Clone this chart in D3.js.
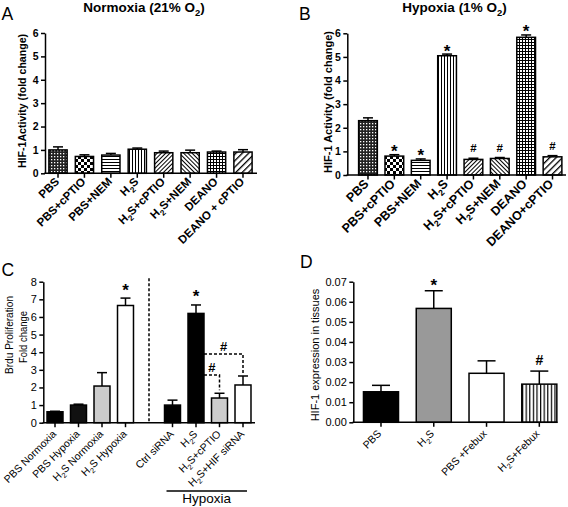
<!DOCTYPE html>
<html><head><meta charset="utf-8">
<script src="https://cdn.jsdelivr.net/npm/d3@7"></script>
<style>body{margin:0;background:#fff}svg{display:block}</style>
</head><body>
<svg id="fig" width="568" height="507"></svg>
<script>
// ---------- DATA ----------
const aCategories = ["PBS","PBS+cPTIO","PBS+NEM","H_2S","H_2S+cPTIO","H_2S+NEM","DEANO","DEANO + cPTIO"];
const aValues = [1.00,0.72,0.78,1.03,0.88,0.88,0.91,0.91];
const aErrors = [0.13,0.07,0.07,0.05,0.07,0.11,0.04,0.10];
const aMarks  = ["","","","","","","",""];

const bCategories = ["PBS","PBS+cPTIO","PBS+NEM","H_2S","H_2S+cPTIO","H_2S+NEM","DEANO","DEANO+cPTIO"];
const bValues = [2.30,0.80,0.62,5.05,0.66,0.70,5.83,0.77];
const bErrors = [0.12,0.06,0.06,0.07,0.05,0.04,0.10,0.05];
const bMarks  = ["","*","*","*","#","#","*","#"];

const abPatterns = ["checkFine","checkBig","hLines","vLines","diagA","diagB","grid","diagWide"];
const abTicks = [0,1,2,3,4,5,6];

const cCategories = ["PBS Normoxia","PBS Hypoxia","H_2S Normoxia","H_2S Hypoxia","Ctrl siRNA","H_2S","H_2S+cPTIO","H_2S+HIF siRNA"];
const cValues = [0.62,1.00,2.08,6.65,1.00,6.20,1.40,2.14];
const cErrors = [0.03,0.05,0.76,0.42,0.28,0.48,0.27,0.51];
const cFills  = ["#000","#111","#cccccc","#fff","#000","#000","#cccccc","#fff"];
const cMarks  = ["","","","*","","*","",""];
const cTicks  = [0,1,2,3,4,5,6,7,8];
const cBrackets = [ // [from category, to category, level]
  ["H_2S","H_2S+HIF siRNA",3.9],
  ["H_2S","H_2S+cPTIO",2.7]
];

const dCategories = ["PBS","H_2S","PBS +Febux","H_2S+Febux"];
const dValues = [0.0152,0.0567,0.0244,0.0190];
const dErrors = [0.0032,0.0088,0.0062,0.0065];
const dFills  = ["#000","#999999","#fff","url(#vStripes)"];
const dMarks  = ["","*","","#"];
const dTicks  = [0,0.01,0.02,0.03,0.04,0.05,0.06,0.07];

// ---------- SETUP ----------
const FONT = "'Liberation Sans', Arial, Helvetica, sans-serif";
const svg = d3.select("#fig").attr("font-family", FONT);
const defs = svg.append("defs");

function pat(id, w, h, draw, rot) {
  const p = defs.append("pattern").attr("id", id)
    .attr("patternUnits","userSpaceOnUse").attr("width", w).attr("height", h);
  if (rot) p.attr("patternTransform", `rotate(${rot})`);
  p.append("rect").attr("width", w).attr("height", h).attr("fill", "#fff");
  draw(p);
}
const rect = (p,x,y,w,h,f="#000") => p.append("rect").attr("x",x).attr("y",y).attr("width",w).attr("height",h).attr("fill",f);
pat("checkFine",3,3,p=>{ rect(p,0,0,3,3,"#222"); rect(p,0,0,1.3,1.3,"#fff"); });
pat("checkBig",6,6,p=>{ rect(p,0,0,3,3); rect(p,3,3,3,3); });
pat("hLines",3,3,p=>{ rect(p,0,0,3,1); });
pat("vLines",3,3,p=>{ rect(p,0,0,1,3); });
pat("diagA",3,3,p=>{ rect(p,0,0,1,3); }, 45);
pat("diagB",3,3,p=>{ rect(p,0,0,1,3); }, -45);
pat("grid",3,3,p=>{ rect(p,0,0,3,1); rect(p,0,0,1,3); });
pat("diagWide",4.5,4.5,p=>{ rect(p,0,0,1.3,4.5); }, 45);
pat("vStripes",3.6,3.6,p=>{ rect(p,0,0,1.2,3.6); });

function addRich(sel, str, fs) {
  const parts = str.split(/_(\d)/);
  let shifted = false;
  parts.forEach((p,i)=>{
    if (i % 2 === 0) {
      if (!p) return;
      const t = sel.append("tspan").text(p);
      if (shifted) { t.attr("dy", -fs*0.3); shifted = false; }
    } else {
      sel.append("tspan").attr("font-size", fs*0.7).attr("dy", fs*0.3).text(p);
      shifted = true;
    }
  });
  return sel;
}

function panel(cfg) {
  const g = svg.append("g");
  const x = d3.scaleBand().domain(cfg.domain).range(cfg.xRange)
    .paddingInner(cfg.pad).paddingOuter(cfg.pad/2);
  const y = d3.scaleLinear().domain([0, cfg.yMax]).range(cfg.yRange);
  const y0 = y(0);

  cfg.cats.forEach((c,i)=>{
    const v = cfg.values[i], e = cfg.errors[i];
    const cx = x(c) + x.bandwidth()/2;
    g.append("line").attr("x1",cx).attr("x2",cx).attr("y1",y(v)).attr("y2",y(v+e))
      .attr("stroke","#000").attr("stroke-width",1.5);
    g.append("line").attr("x1",cx-cfg.cap/2).attr("x2",cx+cfg.cap/2).attr("y1",y(v+e)).attr("y2",y(v+e))
      .attr("stroke","#000").attr("stroke-width",1.5);
    g.append("rect").attr("x",x(c)).attr("y",y(v)).attr("width",x.bandwidth()).attr("height",y0-y(v))
      .attr("fill",cfg.fills[i]).attr("stroke","#000").attr("stroke-width",1.5);
    const m = cfg.marks[i];
    if (m) {
      const cy = y(v+e) - (m === "*" ? cfg.starOff : cfg.hashOff);
      g.append("text").attr("x",cx).attr("y", cy + (m === "*" ? cfg.starSize*0.56 : cfg.hashSize*0.36))
        .attr("text-anchor","middle").attr("font-weight","bold")
        .attr("font-size", m === "*" ? cfg.starSize : cfg.hashSize).text(m);
    }
  });

  const ya = g.append("g").attr("transform",`translate(${cfg.axisX},0)`)
    .call(d3.axisLeft(y).tickValues(cfg.ticks).tickSize(4).tickSizeOuter(0).tickFormat(cfg.fmt));
  ya.selectAll("path,line").attr("stroke","#000").attr("stroke-width",1.5);
  ya.selectAll("text").attr("font-family",FONT).attr("font-size",cfg.tickFont)
    .attr("font-weight",cfg.tickWeight).attr("fill","#000").attr("x",-6.5);

  const xa = g.append("g").attr("transform",`translate(0,${y0})`)
    .call(d3.axisBottom(x).tickValues(cfg.cats).tickSize(4.5).tickSizeOuter(0).tickFormat(""));
  xa.select(".domain").remove();
  xa.selectAll("text").remove();
  xa.selectAll("line").attr("stroke","#000").attr("stroke-width",1.5);
  g.append("line").attr("x1",cfg.axisX-0.75).attr("x2",cfg.xEnd).attr("y1",y0).attr("y2",y0)
    .attr("stroke","#000").attr("stroke-width",1.5);

  cfg.cats.forEach(c=>{
    const cx = x(c) + x.bandwidth()/2;
    const t = g.append("text").attr("text-anchor","end")
      .attr("transform",`translate(${cx+cfg.lblDx},${y0+cfg.lblDy}) rotate(-45)`)
      .attr("font-size",cfg.lblFont).attr("font-weight",cfg.lblWeight);
    addRich(t, c, cfg.lblFont);
  });
  return {g, x, y};
}

// ---------- PANEL A ----------
panel({domain:aCategories, cats:aCategories, values:aValues, errors:aErrors, marks:aMarks,
  fills:abPatterns.map(p=>`url(#${p})`), xRange:[44.8,256.2], pad:0.31, yRange:[173.3,33], yMax:6,
  axisX:45, xEnd:257, ticks:abTicks, fmt:d3.format("d"), tickFont:10.5, tickWeight:"bold",
  cap:10, lblDx:2, lblDy:9, lblFont:11.5, lblWeight:"bold", starOff:8, hashOff:9, starSize:17, hashSize:11});

// ---------- PANEL B ----------
panel({domain:bCategories, cats:bCategories, values:bValues, errors:bErrors, marks:bMarks,
  fills:abPatterns.map(p=>`url(#${p})`), xRange:[354.8,565.7], pad:0.29, yRange:[175,33.3], yMax:6,
  axisX:347.3, xEnd:566, ticks:abTicks, fmt:d3.format("d"), tickFont:10.5, tickWeight:"bold",
  cap:10, lblDx:1.5, lblDy:9.5, lblFont:12.5, lblWeight:"bold", starOff:7, hashOff:10, starSize:17, hashSize:11.5});

// ---------- PANEL C ----------
const cDomain = [...cCategories.slice(0,4), "gap", ...cCategories.slice(4)];
const C = panel({domain:cDomain, cats:cCategories, values:cValues, errors:cErrors, marks:cMarks,
  fills:cFills, xRange:[43.25,254.75], pad:0.32, yRange:[422.7,281.7], yMax:8,
  axisX:43.3, xEnd:255, ticks:cTicks, fmt:d3.format("d"), tickFont:11, tickWeight:"normal",
  cap:10, lblDx:2, lblDy:12, lblFont:10.5, lblWeight:"normal", starOff:12, hashOff:10, starSize:17, hashSize:13});
{
  const {g, x, y} = C;
  const bw = x.bandwidth();
  const gx = x("gap") + bw/2;
  g.append("line").attr("x1",gx).attr("x2",gx).attr("y1",y(8.2)).attr("y2",y(0))
    .attr("stroke","#000").attr("stroke-width",1.5).attr("stroke-dasharray","3,2");
  cBrackets.forEach(([from,to,lvl])=>{
    const xs = x(from) + bw, xe = x(to) + bw/2;
    const ti = cCategories.indexOf(to);
    const ye = y(cValues[ti] + cErrors[ti]) - 3;
    g.append("path").attr("d",`M${xs},${y(lvl)}H${xe}V${ye}`).attr("fill","none")
      .attr("stroke","#000").attr("stroke-width",1.5).attr("stroke-dasharray","3,2");
    g.append("text").attr("x",(xs+xe)/2).attr("y",y(lvl)-3).attr("text-anchor","middle")
      .attr("font-weight","bold").attr("font-size",13).text("#");
  });
  const hx1 = x("Ctrl siRNA") + 2, hx2 = x("H_2S+HIF siRNA") + bw - 4;
  g.append("line").attr("x1",hx1).attr("x2",hx2).attr("y1",491).attr("y2",491)
    .attr("stroke","#000").attr("stroke-width",1.5);
  g.append("text").attr("x",(hx1+hx2)/2).attr("y",503).attr("text-anchor","middle")
    .attr("font-size",13.5).text("Hypoxia");
}

// ---------- PANEL D ----------
panel({domain:dCategories, cats:dCategories, values:dValues, errors:dErrors, marks:dMarks,
  fills:dFills, xRange:[354.6,565.7], pad:0.336, yRange:[422.3,281.7], yMax:0.07,
  axisX:353.3, xEnd:557.5, ticks:dTicks, fmt:d3.format(".2f"), tickFont:11, tickWeight:"normal",
  cap:18, lblDx:1, lblDy:12, lblFont:10.5, lblWeight:"normal", starOff:9, hashOff:11, starSize:17, hashSize:14});

// ---------- TITLES & LABELS ----------
addRich(svg.append("text").attr("x",144).attr("y",11.5).attr("text-anchor","middle")
  .attr("font-weight","bold").attr("font-size",13.5), "Normoxia (21% O_2)", 13.5);
addRich(svg.append("text").attr("x",454.5).attr("y",11.5).attr("text-anchor","middle")
  .attr("font-weight","bold").attr("font-size",13.5), "Hypoxia (1% O_2)", 13.5);

const letters = [["A",1.5,20],["B",299,20],["C",1.5,276],["D",300,268]];
letters.forEach(([t,lx,ly])=> svg.append("text").attr("x",lx).attr("y",ly).attr("font-size",17.5).text(t));

function yLabel(txt, bx, cy, fs, weight, len) {
  const t = svg.append("text").attr("text-anchor","middle").attr("font-size",fs).attr("font-weight",weight)
    .attr("transform",`translate(${bx},${cy}) rotate(-90)`).text(txt);
  if (len) t.attr("textLength",len).attr("lengthAdjust","spacingAndGlyphs");
}
yLabel("HIF-1Activity (fold change)", 26, 101, 10.6, "bold");
yLabel("HIF-1 Activity (fold change)", 332, 102, 11, "bold");
yLabel("Brdu Proliferation", 13, 335, 11.5, "normal", 78);
yLabel("Fold change", 27, 337, 11.5, "normal", 52);
yLabel("HIF-1 expression in tissues", 319, 355, 11, "normal");
</script>
</body></html>
